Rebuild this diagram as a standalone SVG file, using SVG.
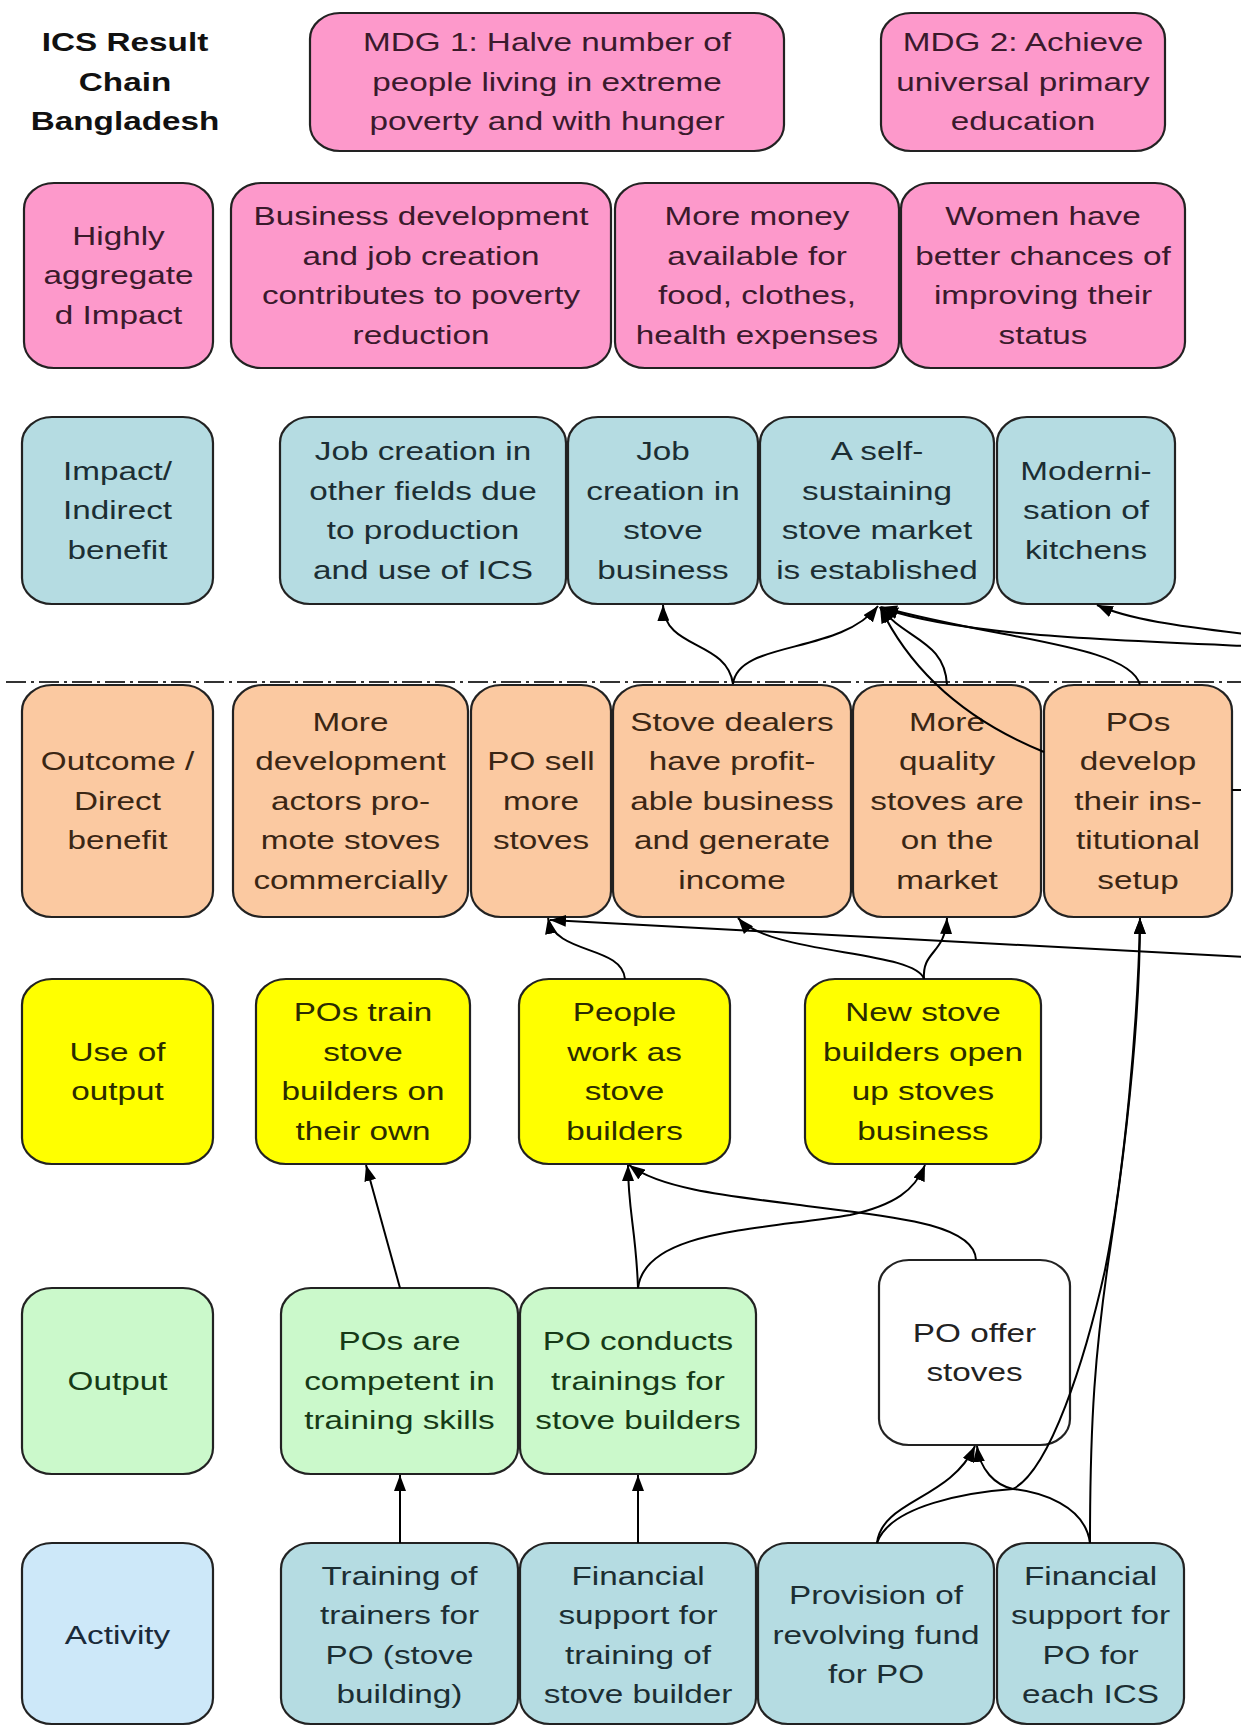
<svg xmlns="http://www.w3.org/2000/svg" width="1241" height="1726" viewBox="0 0 1241 1726">
<defs>
<style>
rect.b{stroke:#222;stroke-width:2.2}
.pink{fill:#fd99cb}.teal{fill:#b5dce2}.orange{fill:#fbc9a1}.yellow{fill:#ffff00}.green{fill:#cbf9cb}.sky{fill:#cde8f9}.white{fill:#ffffff}
text{font-family:"Liberation Sans",Arial,sans-serif;font-size:26px;text-anchor:middle}
.tp{fill:#3a1a2c}.tt{fill:#1c2e33}.to{fill:#3a2614}.ty{fill:#2b2b00}.tg{fill:#163a16}.tw{fill:#222}.ts{fill:#1a2a3a}
.title{font-weight:bold;fill:#111}
.c{fill:none;stroke:#000;stroke-width:2;marker-end:url(#ah)}
.cn{fill:none;stroke:#000;stroke-width:2}
</style>
<marker id="ah" viewBox="0 0 16 12" refX="16" refY="6" markerWidth="16" markerHeight="12" markerUnits="userSpaceOnUse" orient="auto"><path d="M0,0 L16,6 L0,12 z" fill="#000"/></marker>
</defs>
<rect width="1241" height="1726" fill="#ffffff"/>

<line x1="6" y1="682" x2="1241" y2="682" stroke="#333" stroke-width="2" stroke-dasharray="20 5 3 5"/>

<g id="title">
<text class="title" transform="translate(125 0) scale(1.28 1)"><tspan x="0" y="51.5">ICS Result</tspan><tspan x="0" y="91">Chain</tspan><tspan x="0" y="130.5">Bangladesh</tspan></text>
</g>

<g id="mdg1"><rect class="b pink" x="310" y="13" width="474" height="138" rx="30" ry="26"/>
<text class="tp" transform="translate(547 0) scale(1.28 1)"><tspan x="0" y="51.5">MDG 1: Halve number of</tspan><tspan x="0" y="91">people living in extreme</tspan><tspan x="0" y="130.5">poverty and with hunger</tspan></text></g>
<g id="mdg2"><rect class="b pink" x="881" y="13" width="284" height="138" rx="30" ry="26"/>
<text class="tp" transform="translate(1023 0) scale(1.28 1)"><tspan x="0" y="51.5">MDG 2: Achieve</tspan><tspan x="0" y="91">universal primary</tspan><tspan x="0" y="130.5">education</tspan></text></g>

<g id="lbl-highly"><rect class="b pink" x="24" y="183" width="189" height="185" rx="30" ry="26"/>
<text class="tp" transform="translate(118.5 0) scale(1.28 1)"><tspan x="0" y="245">Highly</tspan><tspan x="0" y="284.5">aggregate</tspan><tspan x="0" y="324">d Impact</tspan></text></g>
<g id="business"><rect class="b pink" x="231" y="183" width="380" height="185" rx="30" ry="26"/>
<text class="tp" transform="translate(421 0) scale(1.28 1)"><tspan x="0" y="225.25">Business development</tspan><tspan x="0" y="264.75">and job creation</tspan><tspan x="0" y="304.25">contributes to poverty</tspan><tspan x="0" y="343.75">reduction</tspan></text></g>
<g id="money"><rect class="b pink" x="615" y="183" width="284" height="185" rx="30" ry="26"/>
<text class="tp" transform="translate(757 0) scale(1.28 1)"><tspan x="0" y="225.25">More money</tspan><tspan x="0" y="264.75">available for</tspan><tspan x="0" y="304.25">food, clothes,</tspan><tspan x="0" y="343.75">health expenses</tspan></text></g>
<g id="women"><rect class="b pink" x="901" y="183" width="284" height="185" rx="30" ry="26"/>
<text class="tp" transform="translate(1043 0) scale(1.28 1)"><tspan x="0" y="225.25">Women have</tspan><tspan x="0" y="264.75">better chances of</tspan><tspan x="0" y="304.25">improving their</tspan><tspan x="0" y="343.75">status</tspan></text></g>

<g id="lbl-impact"><rect class="b teal" x="22" y="417" width="191" height="187" rx="30" ry="26"/>
<text class="tt" transform="translate(117.5 0) scale(1.28 1)"><tspan x="0" y="480">Impact/</tspan><tspan x="0" y="519.5">Indirect</tspan><tspan x="0" y="559">benefit</tspan></text></g>
<g id="job-other"><rect class="b teal" x="280" y="417" width="286" height="187" rx="30" ry="26"/>
<text class="tt" transform="translate(423 0) scale(1.28 1)"><tspan x="0" y="460.25">Job creation in</tspan><tspan x="0" y="499.75">other fields due</tspan><tspan x="0" y="539.25">to production</tspan><tspan x="0" y="578.75">and use of ICS</tspan></text></g>
<g id="job-stove"><rect class="b teal" x="568" y="417" width="190" height="187" rx="30" ry="26"/>
<text class="tt" transform="translate(663 0) scale(1.28 1)"><tspan x="0" y="460.25">Job</tspan><tspan x="0" y="499.75">creation in</tspan><tspan x="0" y="539.25">stove</tspan><tspan x="0" y="578.75">business</tspan></text></g>
<g id="self-sustaining"><rect class="b teal" x="760" y="417" width="234" height="187" rx="30" ry="26"/>
<text class="tt" transform="translate(877 0) scale(1.28 1)"><tspan x="0" y="460.25">A self-</tspan><tspan x="0" y="499.75">sustaining</tspan><tspan x="0" y="539.25">stove market</tspan><tspan x="0" y="578.75">is established</tspan></text></g>
<g id="modernisation"><rect class="b teal" x="997" y="417" width="178" height="187" rx="30" ry="26"/>
<text class="tt" transform="translate(1086 0) scale(1.28 1)"><tspan x="0" y="480">Moderni-</tspan><tspan x="0" y="519.5">sation of</tspan><tspan x="0" y="559">kitchens</tspan></text></g>

<g id="lbl-outcome"><rect class="b orange" x="22" y="685" width="191" height="232" rx="30" ry="26"/>
<text class="to" transform="translate(117.5 0) scale(1.28 1)"><tspan x="0" y="770.5">Outcome /</tspan><tspan x="0" y="810">Direct</tspan><tspan x="0" y="849.5">benefit</tspan></text></g>
<g id="more-dev"><rect class="b orange" x="233" y="685" width="235" height="232" rx="30" ry="26"/>
<text class="to" transform="translate(350.5 0) scale(1.28 1)"><tspan x="0" y="731">More</tspan><tspan x="0" y="770.5">development</tspan><tspan x="0" y="810">actors pro-</tspan><tspan x="0" y="849.5">mote stoves</tspan><tspan x="0" y="889">commercially</tspan></text></g>
<g id="po-sell"><rect class="b orange" x="471" y="685" width="140" height="232" rx="30" ry="26"/>
<text class="to" transform="translate(541 0) scale(1.28 1)"><tspan x="0" y="770.5">PO sell</tspan><tspan x="0" y="810">more</tspan><tspan x="0" y="849.5">stoves</tspan></text></g>
<g id="dealers"><rect class="b orange" x="613" y="685" width="238" height="232" rx="30" ry="26"/>
<text class="to" transform="translate(732 0) scale(1.28 1)"><tspan x="0" y="731">Stove dealers</tspan><tspan x="0" y="770.5">have profit-</tspan><tspan x="0" y="810">able business</tspan><tspan x="0" y="849.5">and generate</tspan><tspan x="0" y="889">income</tspan></text></g>
<g id="quality"><rect class="b orange" x="853" y="685" width="188" height="232" rx="30" ry="26"/>
<text class="to" transform="translate(947 0) scale(1.28 1)"><tspan x="0" y="731">More</tspan><tspan x="0" y="770.5">quality</tspan><tspan x="0" y="810">stoves are</tspan><tspan x="0" y="849.5">on the</tspan><tspan x="0" y="889">market</tspan></text></g>
<g id="pos-develop"><rect class="b orange" x="1044" y="685" width="188" height="232" rx="30" ry="26"/>
<text class="to" transform="translate(1138 0) scale(1.28 1)"><tspan x="0" y="731">POs</tspan><tspan x="0" y="770.5">develop</tspan><tspan x="0" y="810">their ins-</tspan><tspan x="0" y="849.5">titutional</tspan><tspan x="0" y="889">setup</tspan></text></g>

<g id="lbl-use"><rect class="b yellow" x="22" y="979" width="191" height="185" rx="30" ry="26"/>
<text class="ty" transform="translate(117.5 0) scale(1.28 1)"><tspan x="0" y="1060.75">Use of</tspan><tspan x="0" y="1100.25">output</tspan></text></g>
<g id="pos-train"><rect class="b yellow" x="256" y="979" width="214" height="185" rx="30" ry="26"/>
<text class="ty" transform="translate(363 0) scale(1.28 1)"><tspan x="0" y="1021.25">POs train</tspan><tspan x="0" y="1060.75">stove</tspan><tspan x="0" y="1100.25">builders on</tspan><tspan x="0" y="1139.75">their own</tspan></text></g>
<g id="people-work"><rect class="b yellow" x="519" y="979" width="211" height="185" rx="30" ry="26"/>
<text class="ty" transform="translate(624.5 0) scale(1.28 1)"><tspan x="0" y="1021.25">People</tspan><tspan x="0" y="1060.75">work as</tspan><tspan x="0" y="1100.25">stove</tspan><tspan x="0" y="1139.75">builders</tspan></text></g>
<g id="new-stove"><rect class="b yellow" x="805" y="979" width="236" height="185" rx="30" ry="26"/>
<text class="ty" transform="translate(923 0) scale(1.28 1)"><tspan x="0" y="1021.25">New stove</tspan><tspan x="0" y="1060.75">builders open</tspan><tspan x="0" y="1100.25">up stoves</tspan><tspan x="0" y="1139.75">business</tspan></text></g>

<g id="lbl-output"><rect class="b green" x="22" y="1288" width="191" height="186" rx="30" ry="26"/>
<text class="tg" transform="translate(117.5 0) scale(1.28 1)"><tspan x="0" y="1390">Output</tspan></text></g>
<g id="competent"><rect class="b green" x="281" y="1288" width="237" height="186" rx="30" ry="26"/>
<text class="tg" transform="translate(399.5 0) scale(1.28 1)"><tspan x="0" y="1350.5">POs are</tspan><tspan x="0" y="1390">competent in</tspan><tspan x="0" y="1429.5">training skills</tspan></text></g>
<g id="conducts"><rect class="b green" x="520" y="1288" width="236" height="186" rx="30" ry="26"/>
<text class="tg" transform="translate(638 0) scale(1.28 1)"><tspan x="0" y="1350.5">PO conducts</tspan><tspan x="0" y="1390">trainings for</tspan><tspan x="0" y="1429.5">stove builders</tspan></text></g>
<g id="offer"><rect class="b white" x="879" y="1260" width="191" height="185" rx="30" ry="26"/>
<text class="tw" transform="translate(974.5 0) scale(1.28 1)"><tspan x="0" y="1342">PO offer</tspan><tspan x="0" y="1381.5">stoves</tspan></text></g>

<g id="lbl-activity"><rect class="b sky" x="22" y="1543" width="191" height="181" rx="30" ry="26"/>
<text class="ts" transform="translate(117.5 0) scale(1.28 1)"><tspan x="0" y="1644">Activity</tspan></text></g>
<g id="training"><rect class="b teal" x="281" y="1543" width="237" height="181" rx="30" ry="26"/>
<text class="tt" transform="translate(399.5 0) scale(1.28 1)"><tspan x="0" y="1584.75">Training of</tspan><tspan x="0" y="1624.25">trainers for</tspan><tspan x="0" y="1663.75">PO (stove</tspan><tspan x="0" y="1703.25">building)</tspan></text></g>
<g id="fin-training"><rect class="b teal" x="520" y="1543" width="236" height="181" rx="30" ry="26"/>
<text class="tt" transform="translate(638 0) scale(1.28 1)"><tspan x="0" y="1584.75">Financial</tspan><tspan x="0" y="1624.25">support for</tspan><tspan x="0" y="1663.75">training of</tspan><tspan x="0" y="1703.25">stove builder</tspan></text></g>
<g id="provision"><rect class="b teal" x="758" y="1543" width="236" height="181" rx="30" ry="26"/>
<text class="tt" transform="translate(876 0) scale(1.28 1)"><tspan x="0" y="1604.5">Provision of</tspan><tspan x="0" y="1644">revolving fund</tspan><tspan x="0" y="1683.5">for PO</tspan></text></g>
<g id="fin-ics"><rect class="b teal" x="997" y="1543" width="187" height="181" rx="30" ry="26"/>
<text class="tt" transform="translate(1090.5 0) scale(1.28 1)"><tspan x="0" y="1584.75">Financial</tspan><tspan x="0" y="1624.25">support for</tspan><tspan x="0" y="1663.75">PO for</tspan><tspan x="0" y="1703.25">each ICS</tspan></text></g>

<g id="connectors">
<path class="c" d="M733,684 C727,640 664,650 663,605"/>
<path class="c" d="M733,684 C738,640 840,655 878,606"/>
<path class="c" d="M947,685 C945,640 905,640 880,607"/>
<path class="c" d="M1044,752 C990,730 920,690 880,607"/>
<path class="c" d="M1140,685 C1130,645 1000,640 881,607"/>
<path class="c" d="M1245,646 C1100,640 960,635 882,608"/>
<path class="c" d="M1245,634 C1180,626 1130,620 1097,605"/>
<path class="cn" d="M1232,790 L1245,790"/>
<path class="c" d="M1245,957 L550,920"/>
<path class="c" d="M625,979 C622,945 555,955 548,918"/>
<path class="c" d="M924,979 C915,950 770,955 738,918"/>
<path class="c" d="M924,979 C922,950 945,955 947,918"/>
<path class="c" d="M1090,1543 C1090,1420 1095,1350 1110,1250 C1125,1150 1140,1020 1140,918"/>
<path class="c" d="M877,1543 C890,1505 970,1492 1013,1489 C1050,1470 1085,1360 1105,1270 C1125,1170 1138,1020 1140,918"/>
<path class="c" d="M877,1543 C882,1500 950,1500 975,1446"/>
<path class="c" d="M1090,1543 C1085,1505 1040,1492 1013,1489 C995,1485 980,1470 977,1446"/>
<path class="c" d="M976,1260 C975,1220 870,1215 800,1205 C720,1195 660,1188 629,1165"/>
<path class="c" d="M638,1288 C636,1230 628,1210 628,1165"/>
<path class="c" d="M638,1288 C645,1230 760,1230 850,1215 C895,1205 915,1190 925,1165"/>
<path class="c" d="M400,1288 L366,1165"/>
<path class="c" d="M400,1543 L400,1475"/>
<path class="c" d="M638,1543 L638,1475"/>
</g>
</svg>
